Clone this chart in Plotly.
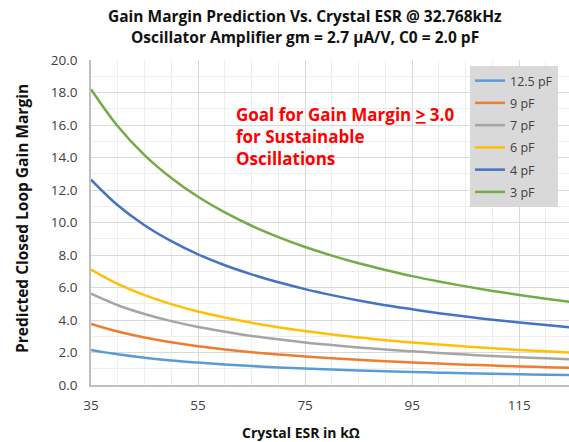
import plotly.graph_objects as go

# Crystal ESR sample points (kOhm)
esr_kohm = [35, 40, 45, 50, 55, 60, 65, 70, 75, 80, 85, 90, 95, 100, 105, 110, 115, 120, 125]

# Predicted closed loop gain margin for each load capacitance
gm_12p5pf = [2.16, 1.89, 1.68, 1.51, 1.38, 1.26, 1.17, 1.08, 1.01, 0.95, 0.89, 0.84, 0.80, 0.76, 0.72, 0.69, 0.66, 0.63, 0.61]
gm_9pf = [3.76, 3.29, 2.92, 2.63, 2.39, 2.19, 2.02, 1.88, 1.75, 1.65, 1.55, 1.46, 1.39, 1.32, 1.25, 1.20, 1.14, 1.10, 1.05]
gm_7pf = [5.62, 4.91, 4.37, 3.93, 3.57, 3.28, 3.02, 2.81, 2.62, 2.46, 2.31, 2.18, 2.07, 1.97, 1.87, 1.79, 1.71, 1.64, 1.57]
gm_6pf = [7.11, 6.22, 5.53, 4.98, 4.52, 4.15, 3.83, 3.55, 3.32, 3.11, 2.93, 2.76, 2.62, 2.49, 2.37, 2.26, 2.16, 2.07, 1.99]
gm_4pf = [12.64, 11.06, 9.83, 8.85, 8.04, 7.37, 6.81, 6.32, 5.90, 5.53, 5.20, 4.91, 4.66, 4.42, 4.21, 4.02, 3.85, 3.69, 3.54]
gm_3pf = [18.20, 15.92, 14.15, 12.74, 11.58, 10.62, 9.80, 9.10, 8.49, 7.96, 7.49, 7.08, 6.70, 6.37, 6.07, 5.79, 5.54, 5.31, 5.10]

series_names = ["12.5 pF", "9 pF", "7 pF", "6 pF", "4 pF", "3 pF"]
series_values = [gm_12p5pf, gm_9pf, gm_7pf, gm_6pf, gm_4pf, gm_3pf]
series_colors = ["#5B9BD5", "#ED7D31", "#A5A5A5", "#FFC000", "#4472C4", "#70AD47"]

title_lines = [
    "Gain Margin Prediction Vs. Crystal ESR @ 32.768kHz",
    "Oscillator Amplifier gm = 2.7 µA/V, C0 = 2.0 pF",
]

FONT = "Open Sans"
TEXT_COLOR = "#404040"
DARK = "#111111"

# plot area in pixels
L, R, T, B = 91, 569, 60, 385
PW, PH = R - L, B - T


def px(x):
    return (x - L) / PW


def py(y):
    return (B - y) / PH


fig = go.Figure()
for i, (name, vals, color) in enumerate(zip(series_names, series_values, series_colors)):
    fig.add_trace(go.Scatter(
        x=esr_kohm, y=vals, name=name, mode="lines",
        line=dict(color=color, width=2.5, shape="spline", smoothing=1.0),
        legendgroup=f"g{i}",
    ))

fig.update_layout(
    width=569, height=442,
    margin=dict(l=L, r=569 - R, t=T, b=442 - B),
    paper_bgcolor="white", plot_bgcolor="white",
    font=dict(family=FONT, color=TEXT_COLOR),
    showlegend=True,
    legend=dict(
        x=px(558), xanchor="right", y=py(66), yanchor="top",
        bgcolor="#D9D9D9", borderwidth=0,
        font=dict(family=FONT, size=12.5, color=TEXT_COLOR),
        tracegroupgap=3, traceorder="grouped",
    ),
)

fig.update_xaxes(
    range=[35, 124.3], tick0=35, dtick=20,
    showgrid=True, gridcolor="#D9D9D9", gridwidth=1,
    minor=dict(dtick=5, tick0=35, showgrid=True, gridcolor="#EEEEEE", gridwidth=1),
    showline=True, linecolor="#BFBFBF", linewidth=1.5,
    ticks="outside", ticklen=7, tickcolor="rgba(0,0,0,0)",
    tickfont=dict(family=FONT, size=13.5, color=TEXT_COLOR),
    zeroline=False,
)
fig.update_yaxes(
    range=[0, 20], tick0=0, dtick=2, tickformat=".1f",
    showgrid=True, gridcolor="#D9D9D9", gridwidth=1,
    minor=dict(dtick=1, showgrid=True, gridcolor="#EEEEEE", gridwidth=1),
    showline=True, linecolor="#BFBFBF", linewidth=1.5,
    ticks="outside", ticklen=9, tickcolor="rgba(0,0,0,0)",
    tickfont=dict(family=FONT, size=13.5, color=TEXT_COLOR),
    zeroline=False,
)

# Two-line chart title
for line_text, yc in zip(title_lines, [16, 37]):
    fig.add_annotation(
        text=f"<b>{line_text}</b>", xref="paper", yref="paper",
        x=px(305), y=py(yc), xanchor="center", yanchor="middle",
        showarrow=False, font=dict(family=FONT, size=15.5, color=DARK),
    )

# Axis titles
fig.add_annotation(
    text="<b>Crystal ESR in kΩ</b>", xref="paper", yref="paper",
    x=px(301), y=py(432), xanchor="center", yanchor="middle",
    showarrow=False, font=dict(family=FONT, size=14, color=DARK),
)
fig.add_annotation(
    text="<b>Predicted Closed Loop Gain Margin</b>", xref="paper", yref="paper",
    x=px(22), y=py(219), xanchor="center", yanchor="middle",
    textangle=-90, showarrow=False, font=dict(family=FONT, size=15.5, color=DARK),
)

# Sustainability goal note
fig.add_annotation(
    text="<b>Goal for Gain Margin <u>></u> 3.0<br>for Sustainable<br>Oscillations</b>",
    xref="paper", yref="paper",
    x=px(234), y=py(101), xanchor="left", yanchor="top",
    align="left", showarrow=False,
    font=dict(family=FONT, size=17, color="#FF0000"),
)

fig.write_html("out.html")
